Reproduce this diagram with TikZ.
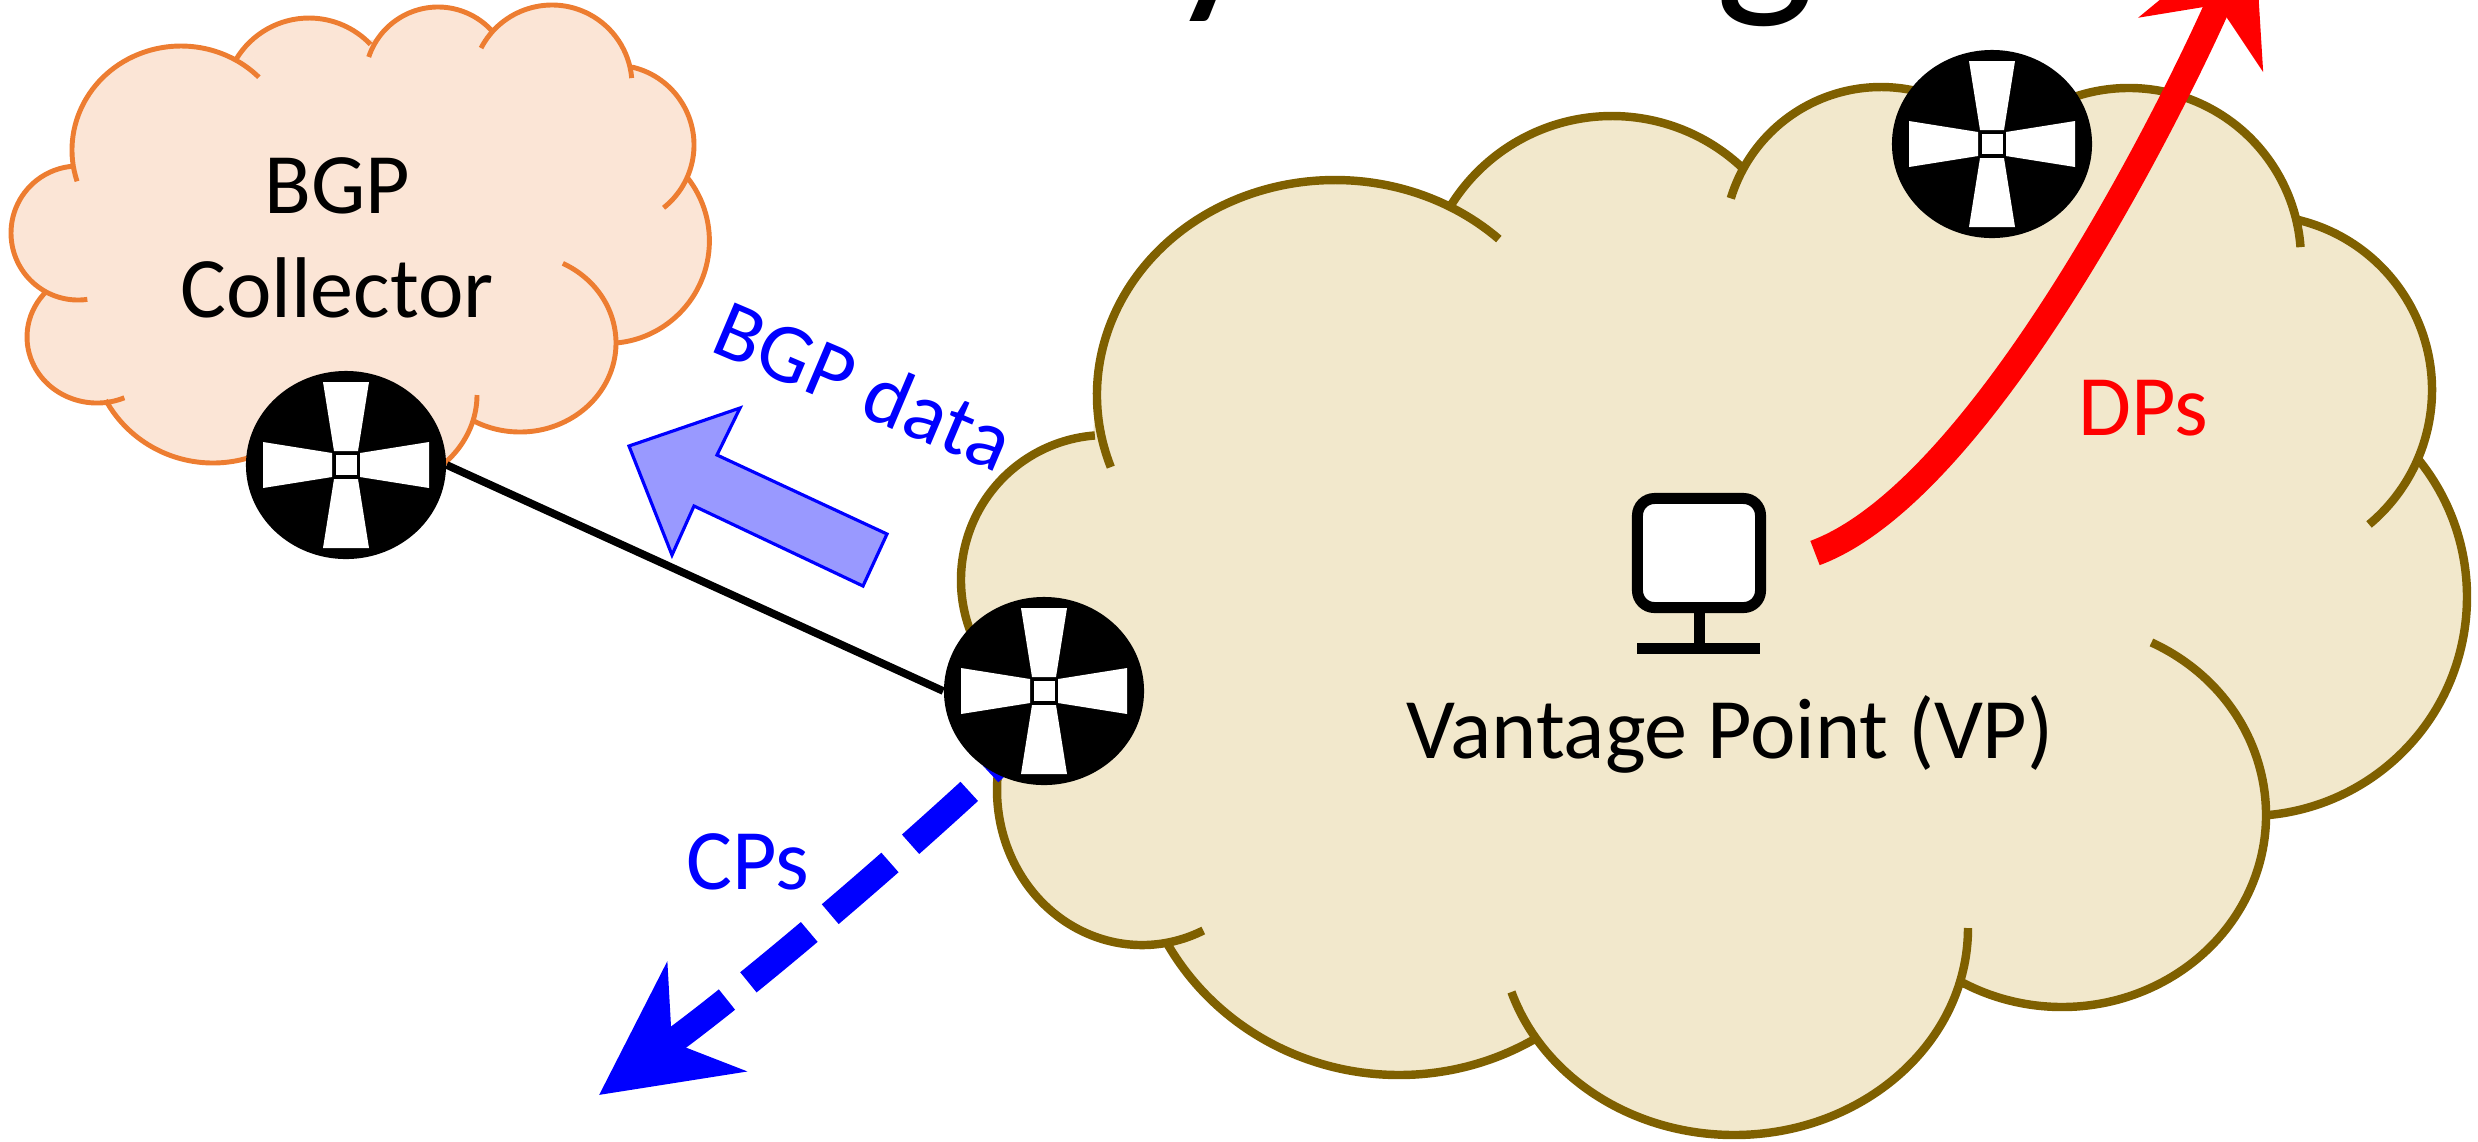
\documentclass[tikz,border=0pt]{standalone}
\usepackage{fontspec}
\setmainfont{Carlito}
\usetikzlibrary{shapes.geometric,arrows.meta}
\definecolor{vantageline}{HTML}{7F6000}
\definecolor{vantagefill}{HTML}{F2E8CC}
\definecolor{collectorline}{HTML}{ED7D31}
\definecolor{collectorfill}{HTML}{FBE5D6}
\definecolor{dataarrow}{HTML}{9999FF}
\newcommand{\lobe}[6]{([shift={(#1,#2)}]#5:#3 and #4) arc[start angle=#5, end angle=#6, x radius=#3, y radius=#4]}
\tikzset{>=latex,
  routerdisc/.style={draw=none, ellipse, fill=black, minimum width=2cm, minimum height=1.88cm, inner sep=0pt},
  routermark/.pic={
    \foreach \ang in {0,90,180,270}
      \fill[white, rotate=\ang] (-23,-83) -- (23,-83) -- (12,-14) -- (-12,-14) -- cycle;
    \fill[white] (-10.5,-10) rectangle (10.5,10);
  },
  label24/.style={font=\fontsize{24.5}{29}\selectfont, align=center, inner sep=0pt},
  headtip/.style={-{Stealth[length=132*0.01cm, width=133*0.01cm, inset=42*0.01cm]}, line width=26*0.01cm}
}
\begin{document}
\begin{tikzpicture}[x=0.01cm, y=-0.01cm]
      \clip (0,0) rectangle (2478,1141);
      % cut off title
      \node[font=\fontsize{60}{60}\selectfont, inner sep=0pt, anchor=base] (ttly) at (1215,-13) {y};
      \node[font=\fontsize{60}{60}\selectfont, inner sep=0pt, anchor=base] (ttlg) at (1765,-10) {g};
      % collector cloud
      \path[fill=collectorfill, draw=collectorfill, line width=0.8pt] (74,166) -- (238,61) -- (374,41) -- (492,30) -- (632,67) -- (687,177) -- (616,343) -- (473,419) -- (445,461) -- (255,457) -- (106,400) -- (47,291) -- cycle;
      \path[fill=collectorfill, draw=collectorline, line width=1.4pt]
        \lobe{181}{150}{109}{104}{162.5}{315.6}
        \lobe{309}{103}{85}{85}{210.6}{316.4}
        \lobe{438}{80}{73}{73}{198.4}{317}
        \lobe{552}{85}{80}{80}{207.5}{355}
        \lobe{614}{145}{80}{80}{283}{411.7}
        \lobe{607}{241}{102.4}{102.4}{321.3}{445}
        \lobe{520}{343}{96}{89}{296.5}{479.8}
        \lobe{365}{395}{112}{97}{0}{60}
        \lobe{213}{343}{122}{120}{60}{151.6}
        \lobe{97}{337}{70}{66}{67}{224}
        \lobe{78}{233}{67}{67}{82}{267};
      % vantage point cloud
      \path[fill=vantagefill, draw=vantagefill, line width=1pt] (1097,395) -- (1452,205) -- (1746,164) -- (1944,98) -- (2070,98) -- (2298,218) -- (2418,458) -- (2266,815) -- (1960,977) -- (1538,1035) -- (1166,942) -- (1000,800) -- (975,650) -- (1095,435) -- cycle;
      \path[fill=vantagefill, draw=vantageline, line width=2.4pt]
        \lobe{1335}{395}{238}{215}{160.4}{313.5}
        \lobe{1612}{306}{190}{190}{212.3}{313.3}
        \lobe{1881}{244}{157}{157}{196.9}{300}
        \lobe{2129}{260}{172}{172}{240}{355.7}
        \lobe{2257}{390}{175}{175}{283.4}{410.2}
        \lobe{2248}{597}{219}{219}{320.7}{445.3}
        \lobe{2062}{815}{204}{192}{296}{480.6}
        \lobe{1734}{928}{234}{207}{0}{162}
        \lobe{1399}{820}{265}{255}{58.1}{151.5}
        \lobe{1142}{790}{145}{155}{65}{187}
        \lobe{1106}{580}{145}{145}{150}{265.6};
      % texts
      \node[label24] (bgp) at (337,186) {BGP};
      \node[label24] (coll) at (337,288) {Collector};
      \node[label24] (vp) at (1730,734) {Vantage Point (VP)};
      \node[label24, text=red] (dps) at (2143,408) {DPs};
      \node[label24, text=blue] (cps) at (748,862) {CPs};
      \node[label24, text=blue, font=\fontsize{24}{29}\selectfont, rotate=-23, anchor=base] (bgpdata) at (853,412) {BGP data};
      % control plane arrow goes under the router
      \coordinate (cpsa) at (1040,725);
      \coordinate (cpsb) at (599,1095);
      \draw[headtip, blue, dash pattern=on 79*0.01cm off 27.5*0.01cm, dash phase=9.5*0.01cm] (cpsa) .. controls (910,850) and (745,989) .. (cpsb);
      % routers
      \node[routerdisc] (rc) at (346,465) {};
      \node[routerdisc] (rv) at (1044,691) {};
      \node[routerdisc] (rt) at (1992,144) {};
      \pic at (rc) {routermark};
      \pic at (rv) {routermark};
      \pic at (rt) {routermark};
      \draw[line width=2.2pt] (rc.east) -- (rv.west);
      % bgp data arrow
      \draw[blue, line width=0.9pt, fill=dataarrow] (629,446) -- (740,408) -- (717,455) -- (887,534) -- (863,586) -- (694,506) -- (672,555) -- cycle;
      % computer
      \node[draw, line width=0.11cm, rounded corners=0.17cm, fill=white, minimum width=1.23cm, minimum height=1.09cm, inner sep=0pt] (pc) at (1699,553) {};
      \coordinate (pcstem) at (1699,648.5);
      \coordinate (pcl) at (1637,648.5);
      \coordinate (pcr) at (1760,648.5);
      \draw[line width=0.11cm] (pc.south) -- (pcstem);
      \draw[line width=0.11cm] (pcl) -- (pcr);
      % data plane arrow
      \coordinate (dpsa) at (1815,553);
      \coordinate (dpsb) at (2254,-78);
      \draw[headtip, red] (dpsa) .. controls (1985,490) and (2178,97) .. (dpsb);
    \end{tikzpicture}
\end{document}
